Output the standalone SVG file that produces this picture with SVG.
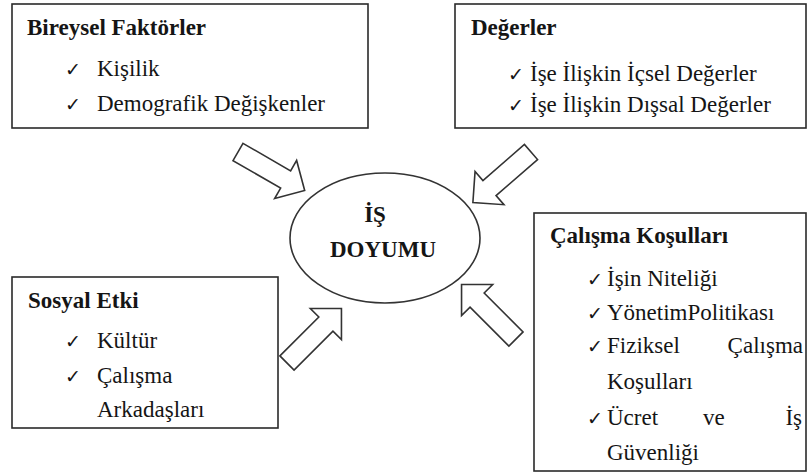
<svg xmlns="http://www.w3.org/2000/svg" width="808" height="474" viewBox="0 0 808 474">
<style>
.box{fill:#fff;stroke:#2a2a2a;stroke-width:1.6}
.arrow{fill:#fff;stroke:#333;stroke-width:1.6;stroke-linejoin:miter}
.t{font-family:'Liberation Serif','Times New Roman',Times,'Noto Serif','DejaVu Serif',FreeSerif,serif;font-size:23px;fill:#151515}
.b{font-weight:bold}
.ck{font-family:'DejaVu Sans',sans-serif;font-size:19px;fill:#151515}
</style>
<defs>
<path id="arr" d="M0,-10 H55 V-22 L77,0 L55,22 V10 H0 Z"/>
</defs>
<rect width="808" height="474" fill="#fff"/>
<g id="connectors">
<use href="#arr" class="arrow" transform="translate(238,152) rotate(30)"/>
<use href="#arr" class="arrow" transform="translate(531,152) rotate(139)"/>
<use href="#arr" class="arrow" transform="translate(287,363) rotate(-45)"/>
<use href="#arr" class="arrow" transform="translate(516,339) rotate(-135)"/>
</g>
<g id="center">
<ellipse cx="385" cy="238" rx="95" ry="65" fill="#fff" stroke="#333" stroke-width="1.6"/>
<text class="t b" x="375" y="222" text-anchor="middle">İŞ</text>
<text class="t b" x="383" y="257" text-anchor="middle">DOYUMU</text>
</g>
<g id="bireysel">
<rect class="box" x="12" y="4" width="356" height="124"/>
<text class="t b" x="27" y="35">Bireysel Faktörler</text>
<text class="ck" x="65" y="76">✓</text>
<text class="t" x="97" y="76">Kişilik</text>
<text class="ck" x="65" y="111">✓</text>
<text class="t" x="97" y="111">Demografik Değişkenler</text>
</g>
<g id="degerler">
<rect class="box" x="455" y="4" width="351" height="124"/>
<text class="t b" x="471" y="35">Değerler</text>
<text class="ck" x="508" y="81">✓</text>
<text class="t" x="530" y="81">İşe İlişkin İçsel Değerler</text>
<text class="ck" x="508" y="112">✓</text>
<text class="t" x="530" y="112">İşe İlişkin Dışsal Değerler</text>
</g>
<g id="sosyal">
<rect class="box" x="12" y="277" width="266" height="151"/>
<text class="t b" x="28" y="308">Sosyal Etki</text>
<text class="ck" x="65" y="348">✓</text>
<text class="t" x="97" y="348">Kültür</text>
<text class="ck" x="65" y="383">✓</text>
<text class="t" x="97" y="383">Çalışma</text>
<text class="t" x="97" y="417">Arkadaşları</text>
</g>
<g id="calisma">
<rect class="box" x="534" y="213" width="272" height="258"/>
<text class="t b" x="550" y="243">Çalışma Koşulları</text>
<text class="ck" x="587" y="286">✓</text>
<text class="t" x="607" y="286">İşin Niteliği</text>
<text class="ck" x="587" y="320">✓</text>
<text class="t" x="607" y="320">YönetimPolitikası</text>
<text class="ck" x="587" y="353">✓</text>
<text class="t" x="607" y="353">Fiziksel</text>
<text class="t" x="803" y="353" text-anchor="end">Çalışma</text>
<text class="t" x="607" y="389">Koşulları</text>
<text class="ck" x="587" y="425">✓</text>
<text class="t" x="607" y="425">Ücret</text>
<text class="t" x="703" y="425">ve</text>
<text class="t" x="802" y="425" text-anchor="end">İş</text>
<text class="t" x="607" y="460">Güvenliği</text>
</g>
</svg>
